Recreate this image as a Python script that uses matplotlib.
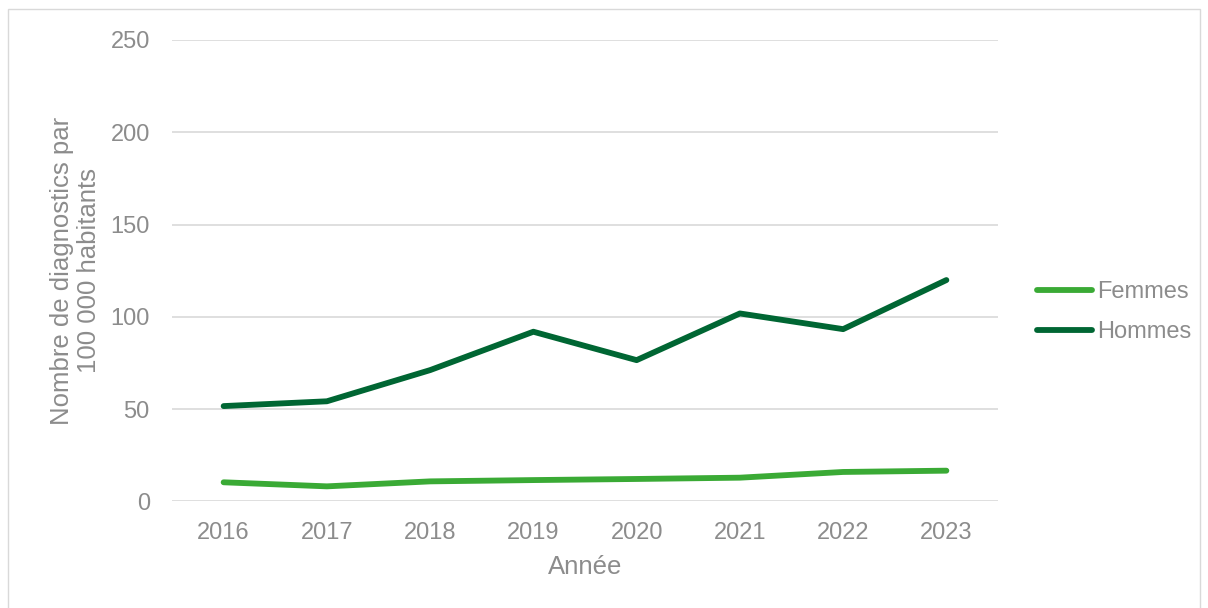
import numpy as np
import matplotlib
matplotlib.use("Agg")
import matplotlib.pyplot as plt
from matplotlib.patches import Rectangle

# diagnostics per 100 000 inhabitants, by year and sex
annees = ["2016", "2017", "2018", "2019", "2020", "2021", "2022", "2023"]
femmes = [10.3, 8.1, 10.8, 11.5, 12.1, 12.8, 15.9, 16.6]
hommes = [51.6, 54.2, 71.1, 91.9, 76.5, 101.8, 93.3, 119.9]

gris = "#8c8c8c"
plt.rcParams["font.family"] = ["Liberation Sans", "DejaVu Sans"]

fig = plt.figure(figsize=(12.08, 6.08), dpi=100)
ax = fig.add_axes([172 / 1208, 1 - 501.3 / 608, (998 - 172) / 1208, (501.3 - 40) / 608])

x = np.arange(len(annees))
ax.plot(x, femmes, color="#3aaa35", lw=4.2, solid_capstyle="round", label="Femmes")
ax.plot(x, hommes, color="#006633", lw=4.2, solid_capstyle="round", label="Hommes")

ax.set_xlim(-0.5, len(annees) - 0.5)
ax.set_ylim(0, 250)
ax.set_yticks(np.arange(0, 251, 50))
ax.set_xticks(x)
ax.set_xticklabels(annees)
ax.grid(axis="y", color="#d9d9d9", lw=1.2)
ax.set_axisbelow(True)
for s in ax.spines.values():
    s.set_visible(False)
ax.tick_params(length=0, labelsize=17, labelcolor=gris)
ax.tick_params(axis="y", pad=16)
ax.tick_params(axis="x", pad=15)

ax.set_xlabel("Année", fontsize=18.5, color=gris, labelpad=8)
ax.set_ylabel("Nombre de diagnostics par\n100 000 habitants", fontsize=18.5,
              color=gris, labelpad=7, linespacing=1.15)

ax.legend(loc="center left", bbox_to_anchor=(1037 / 1208, 1 - 312 / 608),
          bbox_transform=fig.transFigure, frameon=False, fontsize=17,
          labelcolor=gris, handlelength=2.33, handletextpad=0.2,
          labelspacing=0.75, borderpad=0, borderaxespad=0)

# light frame around the whole chart
fig.add_artist(Rectangle((8 / 1208, -0.05), 1192 / 1208, 1.05 - 9 / 608,
                         transform=fig.transFigure, fill=False,
                         edgecolor="#d9d9d9", lw=1))

fig.savefig("out.png", dpi=100)
